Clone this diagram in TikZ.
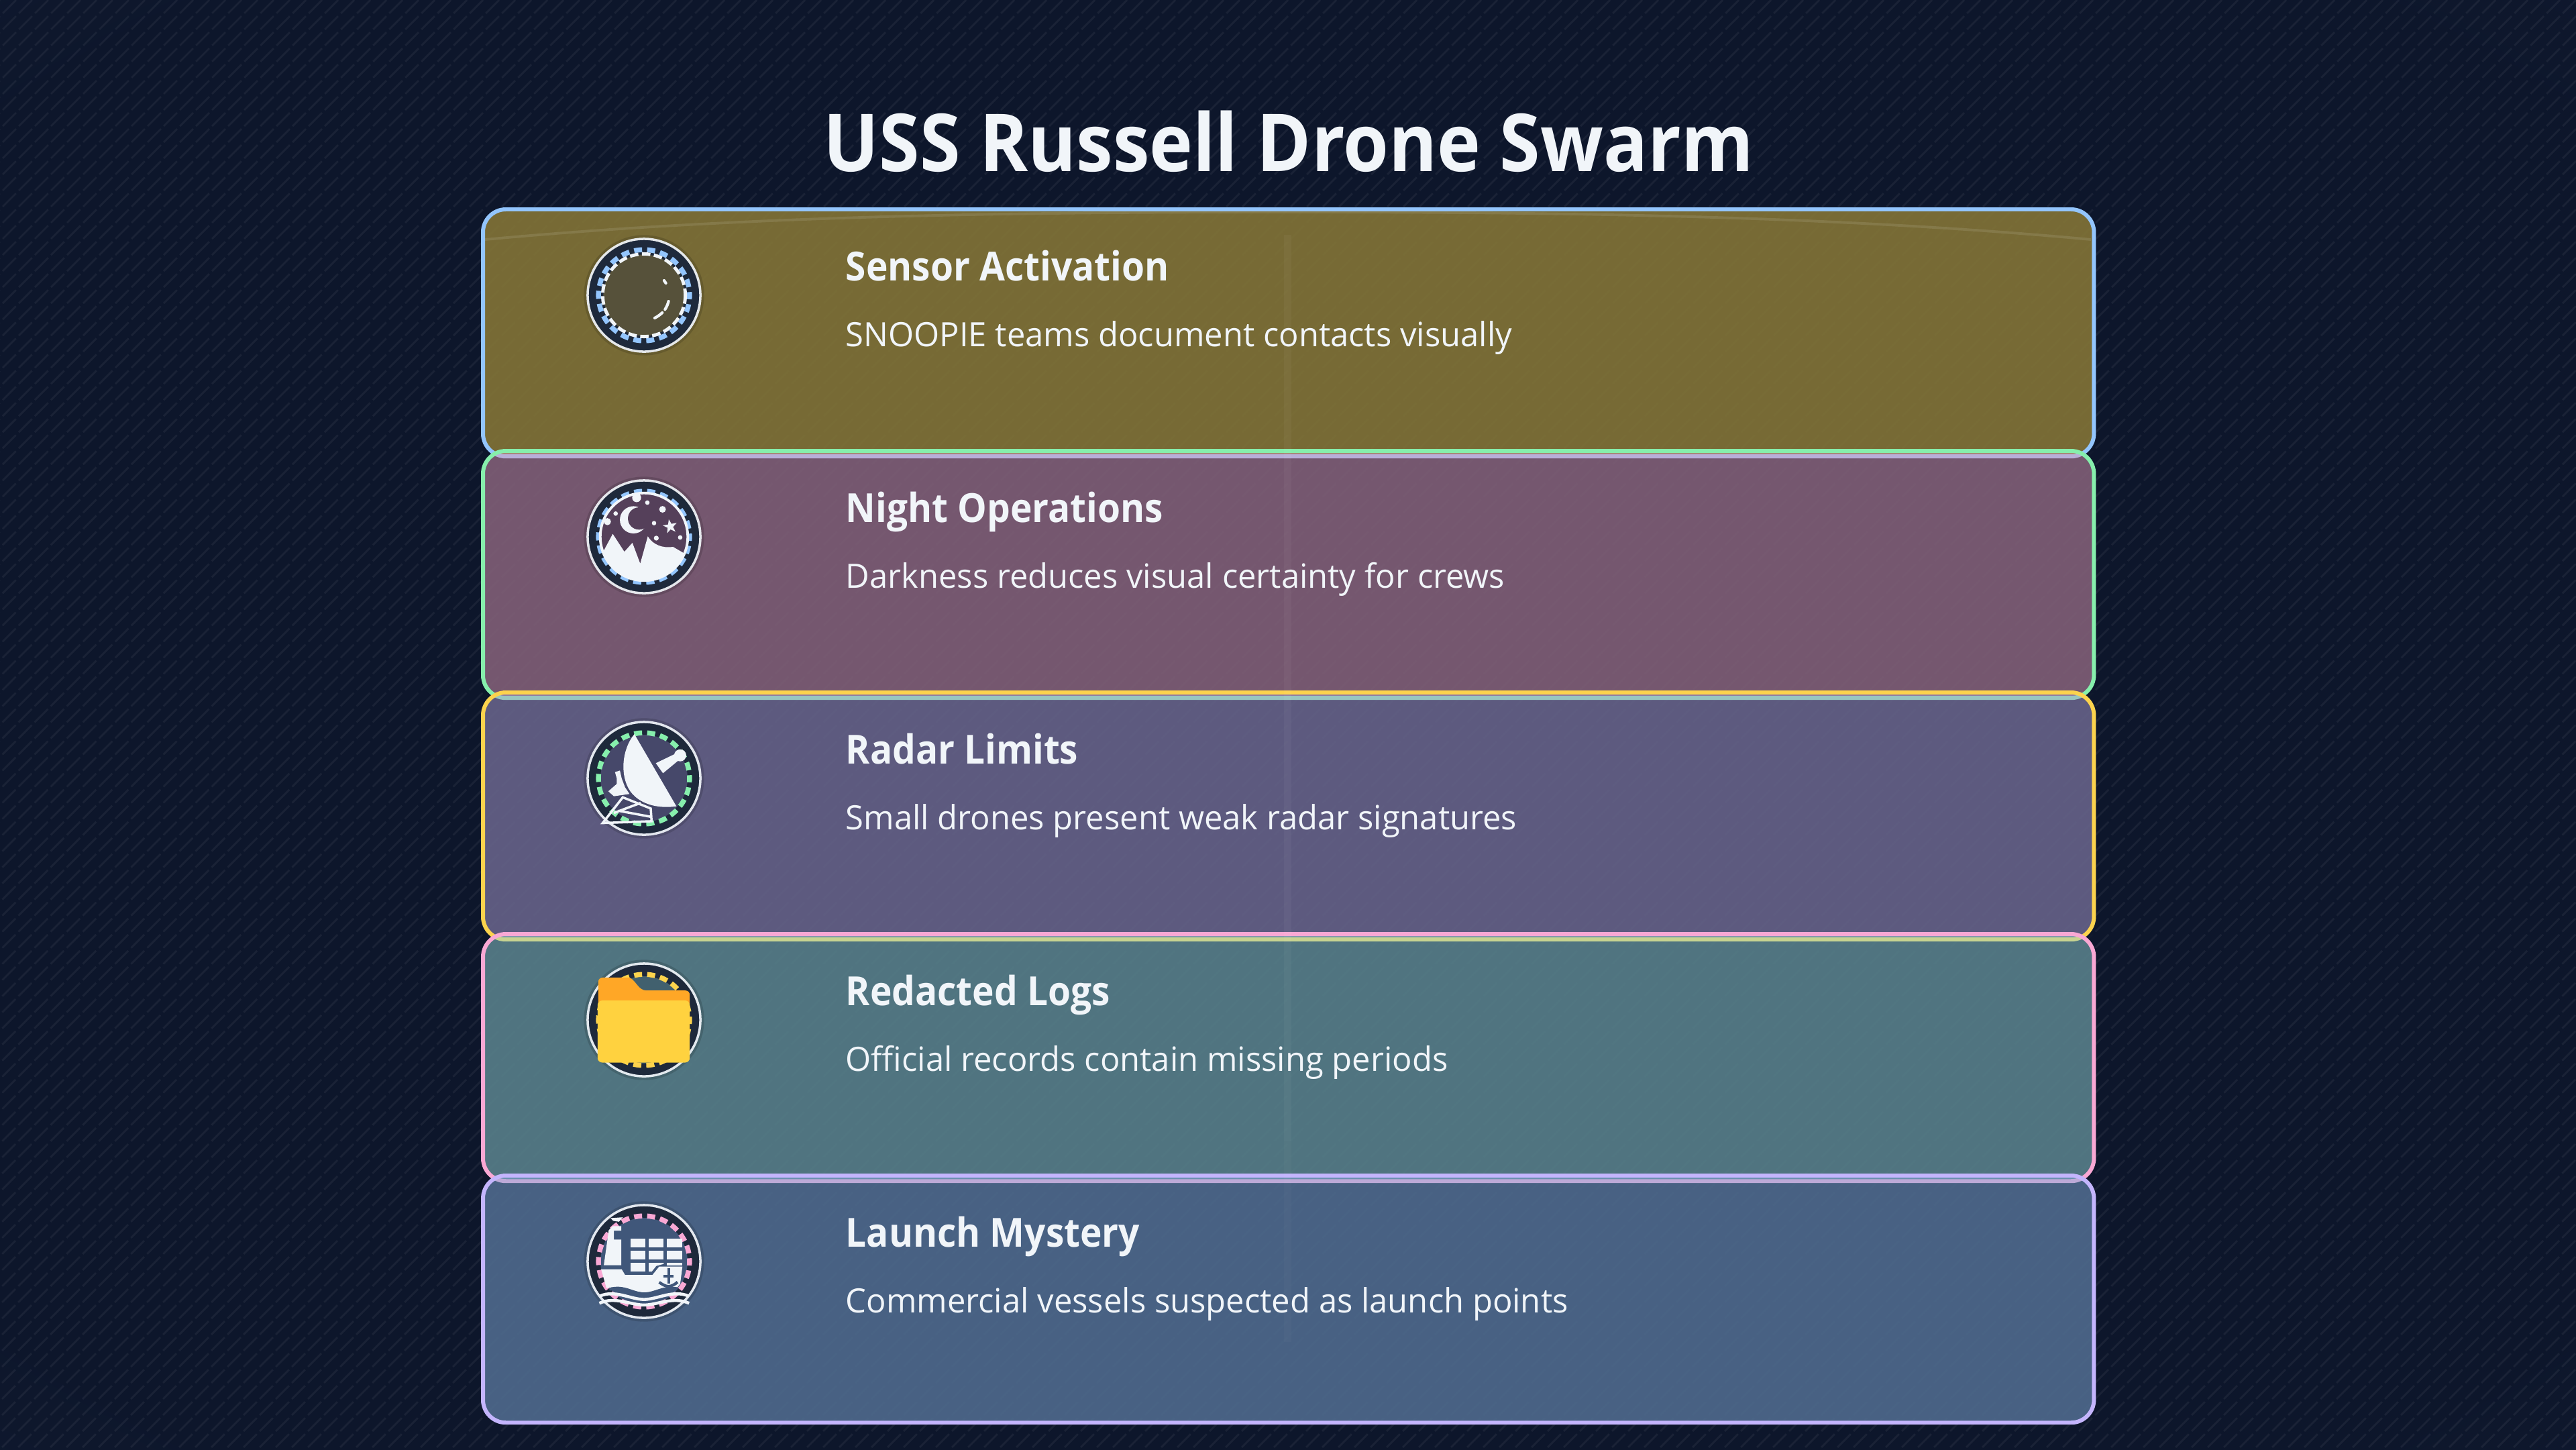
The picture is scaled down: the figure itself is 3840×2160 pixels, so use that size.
\documentclass[tikz,border=0pt]{standalone}
\usepackage{fontspec}
\setmainfont{Open Sans}
\newfontfamily\headfont{Open Sans}[FakeStretch=0.92]
\newfontfamily\bodyfont{Open Sans}[FakeStretch=0.98]

% Culorile benzilor
\definecolor{bgdark}{HTML}{0D162B}
\definecolor{bgedge}{HTML}{18233A}
\definecolor{fillA}{HTML}{E1BF40}
\definecolor{fillB}{HTML}{DD99B4}
\definecolor{fillC}{HTML}{AD9FD4}
\definecolor{fillD}{HTML}{93D3D6}
\definecolor{fillE}{HTML}{83ADDC}
\definecolor{lineA}{HTML}{93C5FD}
\definecolor{lineB}{HTML}{86EFAC}
\definecolor{lineC}{HTML}{FCD34D}
\definecolor{lineD}{HTML}{F9A8D4}
\definecolor{lineE}{HTML}{C4B5FD}
\definecolor{discA}{HTML}{56513A}
\definecolor{discB}{HTML}{55405A}
\definecolor{discC}{HTML}{46486A}
\definecolor{discD}{HTML}{41606E}
\definecolor{discE}{HTML}{40577A}
\definecolor{badge}{HTML}{1E293B}
\definecolor{paper}{HTML}{F1F5F9}
\definecolor{folderback}{HTML}{FFA726}
\definecolor{folderfront}{HTML}{FFD23F}

\pgfdeclareradialshading{backdrop}{\pgfpointorigin}{
  color(0bp)=(bgdark); color(32bp)=(bgdark); color(60bp)=(bgedge)}

\begin{document}
\begin{tikzpicture}[
  x=0.01cm,
  y=-0.01cm,
  band/.style={draw=#1, line width=1.7pt, rounded corners=0.34cm, minimum width=24cm, minimum height=3.68cm, inner sep=0pt, outer sep=0pt, fill opacity=0.5, anchor=north west},
  head/.style={text=paper, font=\fontsize{17pt}{20pt}\headfont\bfseries, anchor=base west, inner sep=0pt},
  body/.style={text=paper, font=\fontsize{14.2pt}{18pt}\bodyfont, anchor=base west, inner sep=0pt},
  ring/.style={circle, draw=#1, line width=1pt, fill=badge, minimum size=1.68cm, inner sep=0pt, outer sep=0pt,
    preaction={draw=black, draw opacity=0.14, line width=3.2pt}},
  ticks/.style={draw=#1, line width=2.1pt, dash pattern=on 3.4pt off 2.13pt, dash phase=1.7pt},
  iconbox/.style={shift={(#1.center)}, x=0.003333cm, y=-0.003333cm, shift={(-480,-420)}},
  glyph/.style={fill=paper, draw=none},
  stroke/.style={draw=paper, line width=1.2pt, line cap=round}
]
\useasboundingbox (0,0) rectangle (3840,2160);

% Fond
\shade[shading=backdrop] (0,0) rectangle (3840,2160);
\begin{scope}
\clip (0,0) rectangle (3840,2160);
\foreach \hx in {0,24,...,6000}
  \draw[white, line width=0.8pt, opacity=0.055, dash pattern=on 0.28cm off 0.0594cm] (\hx,0) -- (\hx-2160,2160);
\end{scope}
\fill[bgdark, opacity=0.75, rounded corners=0.34cm] (720,312) rectangle (3120,2120);

% Titlu
\node[text=paper, font=\fontsize{33.9pt}{38pt}\headfont\bfseries, inner sep=0pt, anchor=base] (title) at (1921,255) {USS Russell Drone Swarm};

% Benzile
\node[band=lineA, fill=fillA] (sensor) at (720,312) {};
\node[band=lineB, fill=fillB] (night) at (720,672) {};
\node[band=lineC, fill=fillC] (radar) at (720,1032) {};
\node[band=lineD, fill=fillD] (logs) at (720,1392) {};
\node[band=lineE, fill=fillE] (launch) at (720,1752) {};

% Reflexe
\draw[white, opacity=0.1, line width=1.1pt] (723,357) .. controls (1100,322) and (1500,316) .. (1920,316) .. controls (2340,316) and (2740,322) .. (3117,357);
\fill[white, opacity=0.04] (1914,350) rectangle (1925,1700);
\fill[white, opacity=0.025] (1914,1700) rectangle (1925,2000);

% Texte
\node[head] (sensorHead) at (1260,418) {Sensor Activation};
\node[body] (sensorBody) at (1260,516) {SNOOPIE teams document contacts visually};
\node[head] (nightHead) at (1260,778) {Night Operations};
\node[body] (nightBody) at (1260,876) {Darkness reduces visual certainty for crews};
\node[head] (radarHead) at (1260,1138) {Radar Limits};
\node[body] (radarBody) at (1260,1236) {Small drones present weak radar signatures};
\node[head] (logsHead) at (1260,1498) {Redacted Logs};
\node[body] (logsBody) at (1260,1596) {Official records contain missing periods};
\node[head] (launchHead) at (1260,1858) {Launch Mystery};
\node[body] (launchBody) at (1260,1956) {Commercial vessels suspected as launch points};

% Insigne
\node[ring=paper!92!discA] (sensorIcon) at (960,440) {};
\node[ring=paper!92!discB] (nightIcon) at (960,800) {};
\node[ring=paper!92!discC] (radarIcon) at (960,1160) {};
\node[ring=paper!92!discD] (logsIcon) at (960,1520) {};
\node[ring=paper!92!discE] (launchIcon) at (960,1880) {};

% Senzor
\begin{scope}[iconbox=sensorIcon]
\fill[discA] (480,420) circle (182);
\draw[ticks=lineA] (480,420) circle (204);
\draw[draw=paper, line width=1.4pt, dash pattern=on 3.6pt off 1.5pt] (480,420) circle (185);
\draw[stroke] (570,354) -- (578,366);
\draw[stroke] (590,447) .. controls (587,460) and (581,473) .. (574,484);
\draw[stroke] (562,498) .. controls (551,508) and (540,516) .. (528,522);
\end{scope}

% Noapte
\begin{scope}[iconbox=nightIcon]
\draw[ticks=lineA] (480,420) circle (204);
\fill[discB] (480,420) circle (196);
\begin{scope}
\clip (480,420) circle (196);
\fill[paper] (290,500) -- (340,407) -- (392,487) -- (428,447) -- (463,540) -- (497,418) .. controls (520,455) and (560,472) .. (610,465) -- (670,500) -- (670,640) -- (290,640) -- cycle;
\end{scope}
\draw[draw=paper, line width=1.1pt] (480,420) circle (196);
\fill[paper] (433,344) circle (61);
\fill[discB] (458,338) circle (50);
\foreach \dx/\dy/\dr in {447/245/20, 495/267/10, 563/297/15, 353/316/10, 316/352/16, 525/359/10, 535/426/11, 642/423/10}
  \fill[paper] (\dx,\dy) circle (\dr);
\fill[paper] (591,342) -- (603,362) -- (626,358) -- (610,376) -- (621,397) -- (599,387) -- (583,404) -- (586,380) -- (564,369) -- (588,365) -- cycle;
\end{scope}

% Radar
\begin{scope}[iconbox=radarIcon]
\fill[discC] (480,420) circle (195);
\draw[ticks=lineB] (480,420) circle (204);
\fill[glyph] (437,222) .. controls (380,290) and (370,410) .. (420,480) .. controls (470,545) and (560,555) .. (625,545) -- cycle;
\fill[glyph] (533,352) -- (620,310) -- (640,335) -- (565,397) -- cycle;
\fill[glyph] (642,317) circle (27);
\fill[glyph] (350,392) -- (372,385) -- (380,420) -- (395,460) -- (415,490) -- (345,500) -- (320,478) -- (358,445) -- (358,420) -- cycle;
\draw[draw=paper, line width=1pt, line join=miter] (295,620) -- (385,505) -- (510,555) -- (514,612) -- cycle;
\draw[draw=paper, line width=1pt] (345,575) -- (465,530) (365,565) -- (510,592);
\end{scope}

% Dosar
\begin{scope}[iconbox=logsIcon]
\fill[discD] (480,420) circle (195);
\draw[ticks=lineC] (480,420) circle (204);
\fill[folderback] (275,250) .. controls (275,238) and (285,230) .. (297,230) -- (415,230) .. controls (445,245) and (455,288) .. (490,288) -- (663,288) .. controls (677,288) and (685,296) .. (685,310) -- (685,500) -- (275,500) -- cycle;
\fill[folderfront, rounded corners=0.07cm] (272,333) rectangle (685,611);
\end{scope}

% Nava
\begin{scope}[iconbox=launchIcon]
\fill[discE] (480,420) circle (195);
\draw[ticks=lineD] (480,420) circle (204);
\fill[glyph] (330,226) -- (385,222) -- (368,242) -- (342,238) -- cycle;
\fill[glyph] (322,280) -- (340,262) -- (378,262) -- (378,282) -- (345,282) -- (345,322) -- (378,322) -- (378,437) -- (300,437) -- cycle;
\foreach \cx in {420,501,583} \foreach \cy in {318,372}
  \fill[glyph] (\cx,\cy) rectangle +(67,39);
\fill[glyph] (420,426) rectangle +(67,39);
\fill[glyph] (501,426) -- (568,426) -- (568,431) -- (535,440) -- (515,465) -- (501,465) -- cycle;
\fill[glyph] (583,426) rectangle +(67,12);
\fill[glyph] (288,455) -- (380,455) -- (395,480) -- (518,480) -- (548,443) -- (652,443) -- (642,520) -- (630,535) .. controls (560,530) and (530,565) .. (470,558) .. controls (420,552) and (370,525) .. (312,540) -- cycle;
\draw[draw=discE, line width=1.2pt] (590,450) -- (590,518) (567,487) -- (612,487);
\draw[draw=discE, line width=1.2pt] (548,513) .. controls (565,525) and (575,530) .. (590,532) .. controls (605,530) and (620,522) .. (630,512);
\draw[draw=discE, line width=1.2pt] (325,545) .. controls (390,525) and (430,565) .. (480,565) .. controls (530,565) and (570,530) .. (625,542);
\draw[draw=paper, line width=1.3pt] (282,575) .. controls (350,545) and (420,590) .. (480,590) .. controls (540,590) and (610,545) .. (680,575);
\draw[draw=paper, line width=1.3pt] (280,607) .. controls (350,575) and (420,615) .. (480,615) .. controls (540,615) and (610,575) .. (682,607);
\end{scope}

\end{tikzpicture}
\end{document}
